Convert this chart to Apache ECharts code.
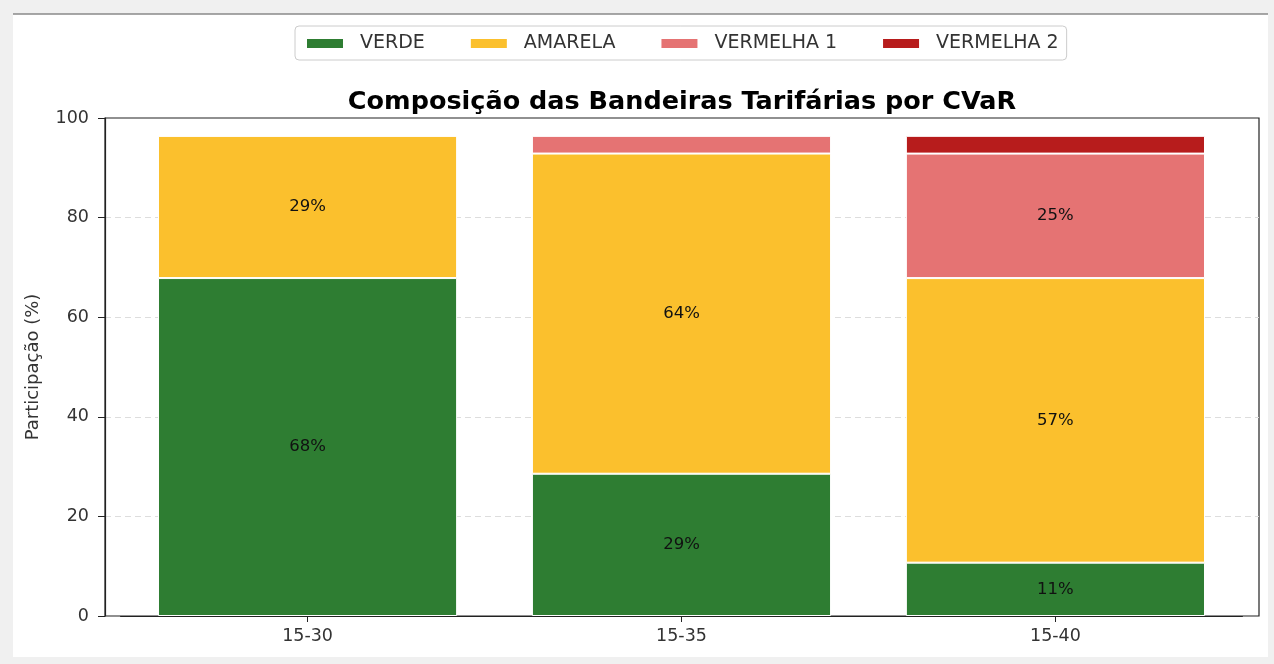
<!DOCTYPE html>
<html>
<head>
<meta charset="utf-8">
<script src="https://cdn.jsdelivr.net/npm/echarts@6/dist/echarts.min.js"></script>
<style>
html,body{margin:0;padding:0;background:#f0f0f0;}
#chart{width:1274px;height:664px;}
</style>
</head>
<body>
<div id="chart"></div>
<script>
const categories = ['15-30', '15-35', '15-40'];
const seriesNames = ['VERDE', 'AMARELA', 'VERMELHA 1', 'VERMELHA 2'];
const verde = [67.86, 28.57, 10.71];
const amarela = [28.57, 64.29, 57.14];
const vermelha1 = [0, 3.57, 25.0];
const vermelha2 = [0, 0, 3.57];
const yTicks = [0, 20, 40, 60, 80, 100];
const colors = ['#2e7d32', '#fbc02d', '#e57373', '#b71c1c'];
const values = [verde, amarela, vermelha1, vermelha2];

const FONT = 'DejaVu Sans';
const chart = echarts.init(document.getElementById('chart'));

const series = seriesNames.map((name, i) => ({
  name: name,
  type: 'bar',
  stack: 'total',
  xAxisIndex: 1,
  yAxisIndex: 1,
  barWidth: '80%',
  data: values[i],
  itemStyle: { color: colors[i], borderColor: '#ffffff', borderWidth: 1 },
  label: {
    show: true,
    position: 'inside',
    color: '#111111',
    fontFamily: FONT,
    fontSize: 16.5,
    formatter: p => (p.value > 5 ? Math.round(p.value) + '%' : '')
  },
  emphasis: { disabled: true }
}));

chart.setOption({
  animation: false,
  backgroundColor: '#f0f0f0',
  graphic: [
    { type: 'rect', z: -10, silent: true, shape: { x: 13, y: 14, width: 1255, height: 643 }, style: { fill: '#ffffff' } },
    { type: 'line', z: -9, silent: true, shape: { x1: 13, y1: 14, x2: 1268, y2: 14 }, style: { stroke: '#8a8a8a', lineWidth: 1.5 } }
  ],
  title: {
    text: 'Composição das Bandeiras Tarifárias por CVaR',
    left: 682,
    textAlign: 'center',
    top: 89,
    padding: 0,
    textStyle: { fontFamily: FONT, fontWeight: 'bold', fontSize: 25.5, color: '#000' }
  },
  legend: {
    data: seriesNames,
    left: 295,
    top: 26,
    padding: [8, 8, 7, 10],
    itemGap: 44,
    itemWidth: 38,
    itemHeight: 11,
    borderColor: '#cccccc',
    borderWidth: 1,
    borderRadius: 4,
    icon: 'rect',
    textStyle: { fontFamily: FONT, fontSize: 19, color: '#333', padding: [0, 0, 0, 11] },
    selectedMode: false
  },
  grid: [
    { left: 105, top: 118, width: 1154, height: 498, show: true, borderColor: '#222', borderWidth: 1.2, backgroundColor: 'transparent' },
    { left: 120.6, top: 118, width: 1121.8, height: 498 }
  ],
  xAxis: [
    { type: 'value', gridIndex: 0, min: 0, max: 1, show: false },
    {
      type: 'category', gridIndex: 1, data: categories,
      axisLine: { show: true, lineStyle: { color: '#222', width: 1.2 } },
      axisTick: { show: true, alignWithLabel: true, length: 6, lineStyle: { color: '#222' } },
      axisLabel: { fontFamily: FONT, fontSize: 17.5, color: '#333', margin: 11 }
    }
  ],
  yAxis: [
    {
      type: 'value', gridIndex: 0, min: 0, max: 100, interval: 20,
      name: 'Participação (%)',
      nameLocation: 'middle',
      nameGap: 63,
      nameTextStyle: { fontFamily: FONT, fontSize: 18, color: '#333' },
      axisLine: { show: true, lineStyle: { color: '#222', width: 1.2 } },
      axisTick: { show: true, length: 7, lineStyle: { color: '#222' } },
      axisLabel: { fontFamily: FONT, fontSize: 17.5, color: '#333', margin: 16, formatter: v => (yTicks.indexOf(v) >= 0 ? String(v) : '') },
      splitLine: { show: true, showMinLine: false, showMaxLine: false, lineStyle: { color: '#dddddd', type: [6, 4], width: 1 } }
    },
    { type: 'value', gridIndex: 1, min: 0, max: 100, show: false, splitLine: { show: false } }
  ],
  series: series
});
</script>
</body>
</html>
